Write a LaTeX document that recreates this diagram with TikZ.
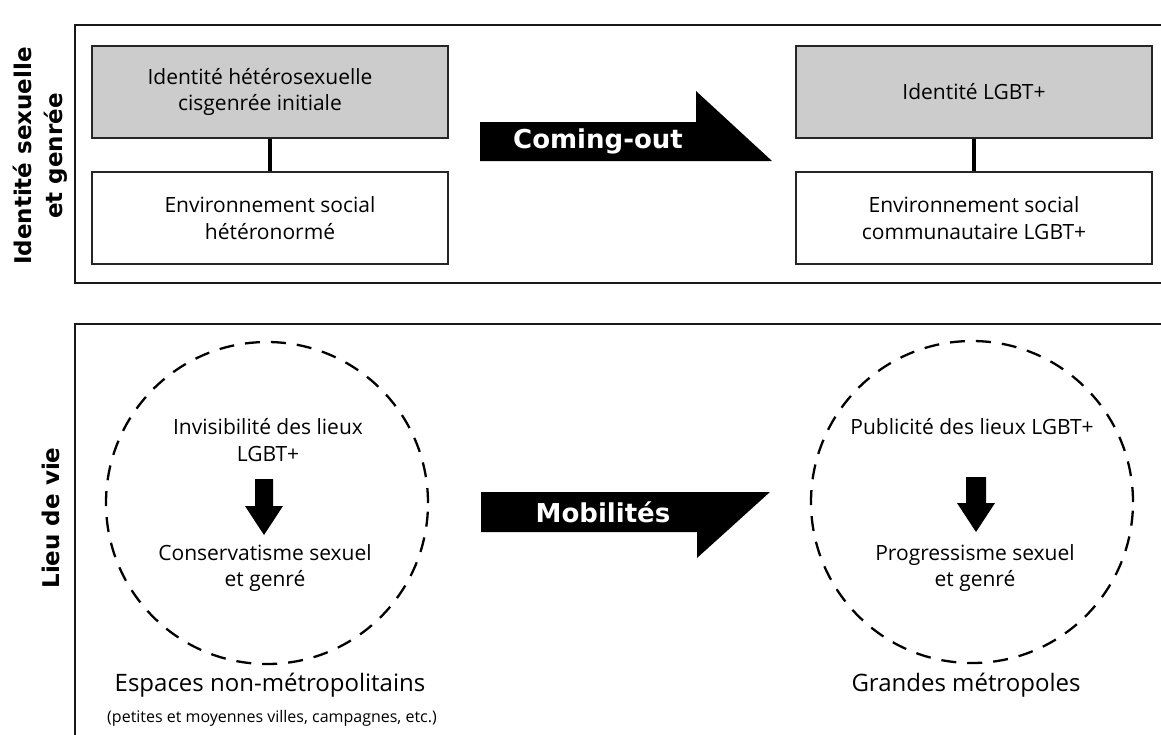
\documentclass[tikz,border=0pt]{standalone}
\usepackage{fontspec}
\setmainfont{Open Sans}
\newfontfamily\lblfont{DejaVu Sans}
\begin{document}
\begin{tikzpicture}[x=1pt,y=-1pt,
  frame/.style={line width=2.7pt, draw=black!90},
  box/.style={draw=black!85, line width=2pt, minimum width=356pt, minimum height=92pt, align=center, inner sep=0pt, font=\fontsize{21}{26.5}\selectfont},
  greybox/.style={box, fill=black!20},
  link/.style={line width=3.5pt, draw=black},
  bigarrow/.style={fill=black},
  arrowtext/.style={text=white, inner sep=0pt, font=\lblfont\bfseries\fontsize{26}{30}\selectfont},
  sidelabel/.style={rotate=90, align=center, inner sep=0pt, font=\lblfont\bfseries\fontsize{23}{31}\selectfont},
  zone/.style={circle, draw=black, line width=2.3pt, dash pattern=on 15pt off 11pt, minimum size=322pt, inner sep=0pt},
  body/.style={align=center, inner sep=0pt, font=\fontsize{21}{26.5}\selectfont},
  place/.style={align=center, inner sep=0pt, font=\fontsize{24}{28}\selectfont},
  note/.style={align=center, inner sep=0pt, font=\fontsize{16}{20}\selectfont}
]
\useasboundingbox (0,0) rectangle (1161,734);
\fill[white] (0,0) rectangle (1161,734);

% frames
\draw[frame] (1170,25) -- (75,25) -- (75,283) -- (1170,283);
\draw[frame] (1170,324) -- (75,324) -- (75,745);

% side labels
\node[sidelabel] (lab1) at (40,156) {Identité sexuelle\\et genrée};
\node[sidelabel] (lab2) at (51,518) {Lieu de vie};

% top section
\node[greybox] (idA) at (270,92) {Identité hétérosexuelle\hspace*{20pt}\\cisgenrée initiale\hspace*{20pt}};
\node[box] (envA) at (270,218) {Environnement social\\hétéronormé};
\draw[link] (idA.south) -- (envA.north);

\node[greybox] (idB) at (974,92) {Identité LGBT+};
\node[box] (envB) at (974,218) {Environnement social\\communautaire LGBT+};
\draw[link] (idB.south) -- (envB.north);

\fill[bigarrow] (480,122) -- (696,122) -- (696,91) -- (772,161) -- (480,161) -- cycle;
\node[arrowtext] (co) at (598,141) {Coming-out};

% bottom section
\node[zone] (zA) at (267,503) {};
\node[zone] (zB) at (972,502) {};

\node[body] (invA) at (268,440) {Invisibilité des lieux\\LGBT+};
\node[body] (conA) at (265,568) {Conservatisme sexuel\\et genré};
\fill[bigarrow] (255,479) -- (273,479) -- (273,506) -- (283,506) -- (264,535) -- (245,506) -- (255,506) -- cycle;

\node[body] (pubB) at (972,427) {Publicité des lieux LGBT+};
\node[body] (proB) at (975,568) {Progressisme sexuel\\et genré};
\fill[bigarrow] (966,477) -- (986,477) -- (986,503) -- (995,503) -- (976,532) -- (957,503) -- (966,503) -- cycle;

\fill[bigarrow] (481,492) -- (770,492) -- (697,558) -- (697,532) -- (481,532) -- cycle;
\node[arrowtext] (mob) at (603,512) {Mobilités};

\node[place] (plA) at (270,685) {Espaces non-métropolitains};
\node[note] (ntA) at (272,718) {(petites et moyennes villes, campagnes, etc.)};
\node[place] (plB) at (966,685) {Grandes métropoles};
\end{tikzpicture}
\end{document}
